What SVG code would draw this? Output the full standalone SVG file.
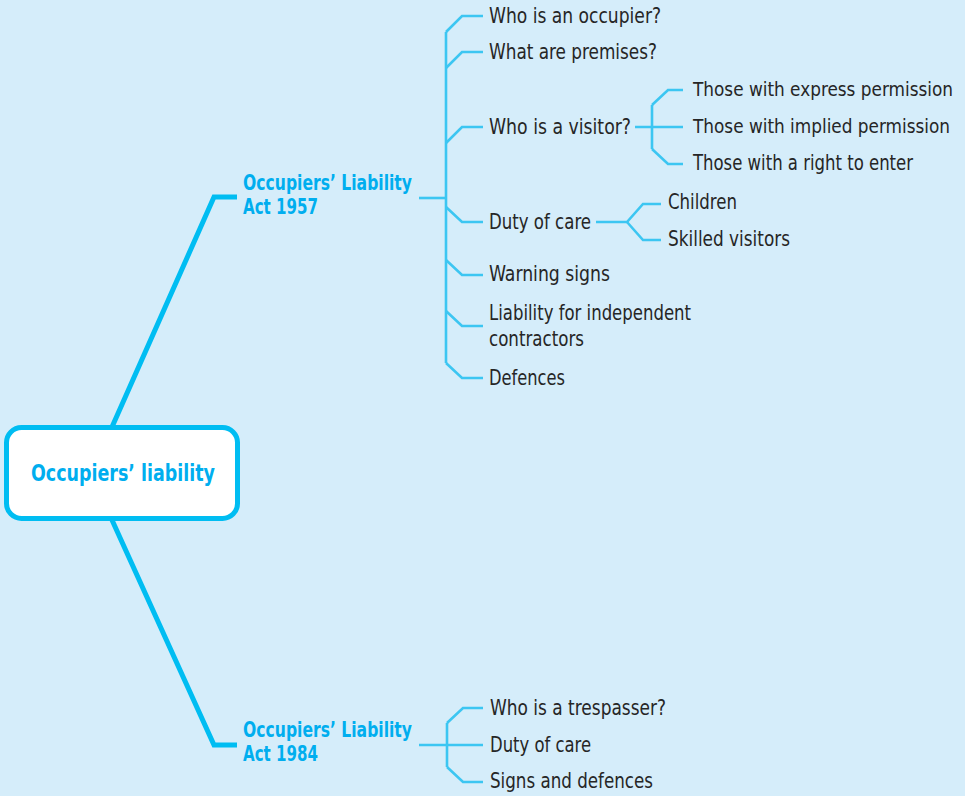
<svg xmlns="http://www.w3.org/2000/svg" width="965" height="796" viewBox="0 0 965 796">
<style>
.bg{fill:#D5EDFA}
.thick{fill:none;stroke:#00BDF2;stroke-width:5;stroke-linejoin:miter}
.thin{fill:none;stroke:#3CC6F2;stroke-width:2.6;stroke-linejoin:miter}
.t{font-family:"Liberation Sans Narrow","DejaVu Sans Condensed","Liberation Sans",Arial,sans-serif;font-size:22px;fill:#262626}
.s{font-size:19.5px}
.b{font-family:"Liberation Sans Narrow","DejaVu Sans Condensed","Liberation Sans",Arial,sans-serif;font-size:23.5px;font-weight:bold;fill:#00AEEF}
.l{font-size:20.5px}
.box{fill:#FFFFFF;stroke:#00BDF2;stroke-width:5}
</style>
<rect class="bg" x="0" y="0" width="965" height="796"/>
<g id="connectors">
  <path class="thick" d="M112,427 L214,197 L237,197"/>
  <path class="thick" d="M112,520 L214,745 L237,745"/>
  <path class="thin" d="M419,198 H446"/>
  <path class="thin" d="M446,32 V363"/>
  <path class="thin" d="M446,32 L462,16 H483"/>
  <path class="thin" d="M446,68 L462,52 H483"/>
  <path class="thin" d="M446,143 L462,127 H483"/>
  <path class="thin" d="M446,207 L462,222 H483"/>
  <path class="thin" d="M446,260 L462,275 H483"/>
  <path class="thin" d="M446,311 L462,326 H483"/>
  <path class="thin" d="M446,363 L462,378 H483"/>
  <path class="thin" d="M635,127 H683"/>
  <path class="thin" d="M652,105 V149"/>
  <path class="thin" d="M652,105 L668,90 H683"/>
  <path class="thin" d="M652,149 L668,164 H683"/>
  <path class="thin" d="M596,222 H627 L643,204 H661"/>
  <path class="thin" d="M627,222 L643,240 H661"/>
  <path class="thin" d="M419,745 H483"/>
  <path class="thin" d="M447,723 V767"/>
  <path class="thin" d="M447,723 L463,708 H483"/>
  <path class="thin" d="M447,767 L463,782 H483"/>
</g>
<g id="central">
  <rect class="box" x="6.5" y="427.5" width="231" height="91" rx="15"/>
  <text class="b" x="31" y="481" textLength="184" lengthAdjust="spacingAndGlyphs">Occupiers’ liability</text>
</g>
<g id="act1957">
  <text class="b l"><tspan x="243" y="190" textLength="169" lengthAdjust="spacingAndGlyphs">Occupiers’ Liability</tspan><tspan x="243" y="214" textLength="75" lengthAdjust="spacingAndGlyphs">Act 1957</tspan></text>
</g>
<g id="act1984">
  <text class="b l"><tspan x="243" y="737" textLength="169" lengthAdjust="spacingAndGlyphs">Occupiers’ Liability</tspan><tspan x="243" y="761" textLength="75" lengthAdjust="spacingAndGlyphs">Act 1984</tspan></text>
</g>
<g id="occupier"><text class="t" x="489" y="23" textLength="172" lengthAdjust="spacingAndGlyphs">Who is an occupier?</text></g>
<g id="premises"><text class="t" x="489" y="59" textLength="168" lengthAdjust="spacingAndGlyphs">What are premises?</text></g>
<g id="visitor"><text class="t" x="489" y="134" textLength="142" lengthAdjust="spacingAndGlyphs">Who is a visitor?</text></g>
<g id="express"><text class="t s" x="693" y="96" textLength="260" lengthAdjust="spacingAndGlyphs">Those with express permission</text></g>
<g id="implied"><text class="t s" x="693" y="133" textLength="257" lengthAdjust="spacingAndGlyphs">Those with implied permission</text></g>
<g id="right"><text class="t" x="693" y="170" textLength="220" lengthAdjust="spacingAndGlyphs">Those with a right to enter</text></g>
<g id="duty1957"><text class="t" x="489" y="229" textLength="102" lengthAdjust="spacingAndGlyphs">Duty of care</text></g>
<g id="children"><text class="t" x="668" y="209" textLength="69" lengthAdjust="spacingAndGlyphs">Children</text></g>
<g id="skilled"><text class="t" x="668" y="246" textLength="122" lengthAdjust="spacingAndGlyphs">Skilled visitors</text></g>
<g id="warning"><text class="t" x="489" y="281" textLength="121" lengthAdjust="spacingAndGlyphs">Warning signs</text></g>
<g id="contractors">
  <text class="t"><tspan x="489" y="320" textLength="202" lengthAdjust="spacingAndGlyphs">Liability for independent</tspan><tspan x="489" y="346" textLength="95" lengthAdjust="spacingAndGlyphs">contractors</tspan></text>
</g>
<g id="defences"><text class="t" x="489" y="385" textLength="76" lengthAdjust="spacingAndGlyphs">Defences</text></g>
<g id="trespasser"><text class="t" x="490" y="715" textLength="176" lengthAdjust="spacingAndGlyphs">Who is a trespasser?</text></g>
<g id="duty1984"><text class="t" x="490" y="752" textLength="101" lengthAdjust="spacingAndGlyphs">Duty of care</text></g>
<g id="signs"><text class="t" x="490" y="788" textLength="163" lengthAdjust="spacingAndGlyphs">Signs and defences</text></g>
</svg>
